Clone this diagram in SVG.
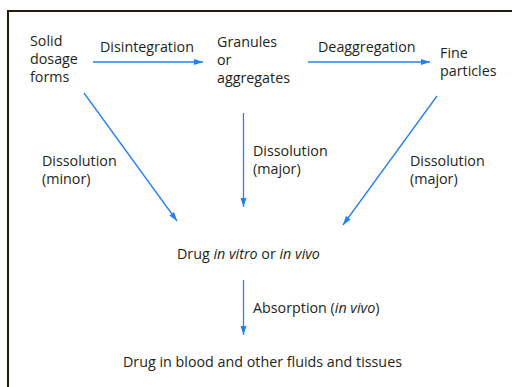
<svg xmlns="http://www.w3.org/2000/svg" width="514" height="387" viewBox="0 0 514 387">
  <style>
    text { font-family: "Open Sans", "Noto Sans", "Liberation Sans", sans-serif; font-size: 14.3px; fill: #231f20; }
    .it { font-style: italic; }
    .conn { stroke: #2680eb; stroke-width: 1.3; fill: none; marker-end: url(#arrow); }
    .frame { stroke: #231a0f; stroke-width: 2; fill: none; }
  </style>
  <defs>
    <marker id="arrow" markerUnits="userSpaceOnUse" markerWidth="10" markerHeight="8" viewBox="0 0 10 8" refX="9" refY="4" orient="auto">
      <path d="M0,1 L9,4 L0,7 Z" fill="#2680eb"/>
    </marker>
  </defs>

  <rect width="514" height="387" fill="#ffffff"/>
  <!-- open frame: left and top edges -->
  <path class="frame" d="M8,387 V11 H512"/>

  <g id="solid-dosage-forms">
    <text x="30" y="46">Solid</text>
    <text x="30" y="64">dosage</text>
    <text x="30" y="82">forms</text>
  </g>
  <g id="granules">
    <text x="217" y="47">Granules</text>
    <text x="217" y="65">or</text>
    <text x="217" y="83">aggregates</text>
  </g>
  <g id="fine-particles">
    <text x="440" y="58">Fine</text>
    <text x="440" y="76">particles</text>
  </g>
  <g id="drug-in-vitro">
    <text x="177" y="259">Drug <tspan class="it">in vitro</tspan> or <tspan class="it">in vivo</tspan></text>
  </g>
  <g id="drug-in-blood">
    <text x="123" y="367">Drug in blood and other fluids and tissues</text>
  </g>

  <g id="connectors">
    <line class="conn" x1="93" y1="62" x2="203" y2="62"/>
    <line class="conn" x1="308" y1="62" x2="430" y2="62"/>
    <line class="conn" x1="84" y1="93" x2="177" y2="221"/>
    <line class="conn" x1="243.5" y1="113" x2="243.5" y2="207"/>
    <line class="conn" x1="437" y1="96" x2="343" y2="225"/>
    <line class="conn" x1="243.5" y1="280" x2="243.5" y2="335"/>

    <g id="connector-labels">
      <text x="100" y="52">Disintegration</text>
      <text x="318" y="52">Deaggregation</text>
      <text x="42" y="166">Dissolution</text>
      <text x="42" y="184">(minor)</text>
      <text x="253" y="156">Dissolution</text>
      <text x="253" y="174">(major)</text>
      <text x="410" y="166">Dissolution</text>
      <text x="410" y="184">(major)</text>
      <text x="253" y="313">Absorption (<tspan class="it">in vivo</tspan>)</text>
    </g>
  </g>
</svg>
